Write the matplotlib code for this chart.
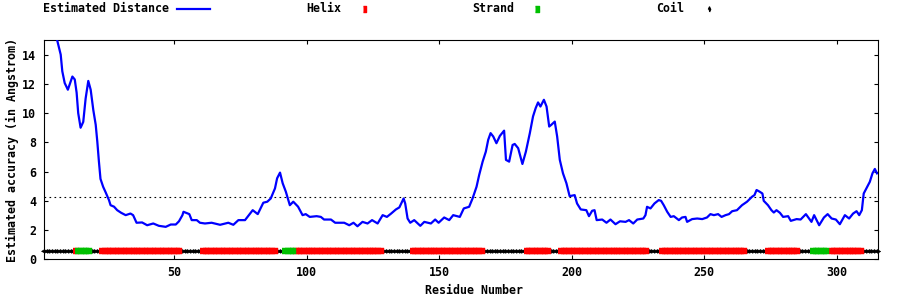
import matplotlib
matplotlib.use("Agg")
import matplotlib.pyplot as plt
from matplotlib.lines import Line2D
import numpy as np

# estimated distance per residue
res_pos = [1, 3, 5, 7.3, 7.9, 8.8, 10.0, 11.7, 12.6, 13.3, 13.9, 14.8, 15.8, 16.7, 17.7,
           18.6, 19.6, 20.5, 21.1, 21.7, 22.3, 23.3, 24.2, 25.5, 26.1, 27.4, 28.6, 30.1,
           31.8, 33.6, 34.6, 35.9, 38.0, 39.9, 42.2, 44.3, 46.9, 48.8, 50.7, 51.9, 53.2,
           53.6, 55.8, 56.7, 58.6, 59.8, 61.7, 64.2, 67.4, 70.5, 72.4, 74.3, 76.8, 78.7,
           79.7, 81.6, 83.7, 85.2, 86.5, 88.1, 88.9, 90.0, 91.0, 92.2, 93.7, 95.0, 96.8,
           98.5, 99.7, 101.2, 103.8, 105.4, 106.6, 109.2, 110.8, 114.2, 116.1, 117.7,
           119.2, 121.1, 123.0, 124.7, 126.8, 128.7, 130.3, 131.9, 133.7, 135.0, 136.0,
           136.6, 137.2, 138.1, 139.1, 140.6, 142.9, 144.4, 146.9, 148.5, 149.8, 151.9,
           153.8, 155.3, 157.8, 159.3, 161.3, 162.6, 164.1, 165.1, 166.4, 167.6, 168.5,
           169.4, 170.4, 171.6, 172.9, 174.5, 175.2, 176.4, 177.7, 178.5, 179.8, 181.4,
           182.7, 184.2, 185.4, 186.4, 187.3, 188.2, 189.5, 190.5, 191.5, 192.3, 193.6,
           194.5, 195.5, 196.7, 198.0, 199.2, 201.1, 202.0, 203.4, 205.5, 206.5, 207.7,
           208.6, 209.4, 211.5, 213.1, 214.6, 216.5, 218.2, 220.3, 221.6, 223.2, 224.7,
           227.0, 227.8, 228.4, 229.7, 231.2, 232.8, 233.7, 234.7, 236.0, 237.3, 238.5,
           240.4, 241.6, 242.9, 243.5, 245.4, 247.3, 249.2, 251.0, 252.3, 253.6, 255.2,
           256.5, 258.0, 259.3, 260.5, 262.3, 264.2, 266.1, 268.0, 268.9, 269.7, 270.9,
           271.9, 272.4, 274.0, 275.3, 276.2, 277.2, 278.5, 279.7, 281.6, 282.6, 284.8,
           286.3, 288.3, 290.4, 291.4, 293.3, 295.1, 296.5, 298.0, 299.6, 301.1, 303.0,
           304.6, 306.1, 307.4, 308.4, 309.4, 310.1, 311.1, 312.4, 313.4, 314.3, 315.1]
est_dist = [18.5, 17.0, 15.7, 14.0, 12.86, 12.06, 11.6, 12.5, 12.3, 11.4, 10.0, 9.0, 9.4, 11.0,
            12.2, 11.6, 10.2, 9.2, 8.05, 6.7, 5.5, 4.96, 4.6, 4.05, 3.7, 3.6, 3.36, 3.18,
            3.02, 3.13, 3.02, 2.5, 2.52, 2.33, 2.45, 2.29, 2.22, 2.38, 2.38, 2.6, 3.02,
            3.25, 3.09, 2.68, 2.68, 2.5, 2.45, 2.5, 2.36, 2.5, 2.36, 2.68, 2.68, 3.13,
            3.36, 3.09, 3.87, 3.94, 4.16, 4.85, 5.54, 5.93, 5.2, 4.62, 3.7, 3.94, 3.6,
            3.02, 3.09, 2.9, 2.95, 2.9, 2.72, 2.72, 2.5, 2.5, 2.33, 2.5,
            2.26, 2.56, 2.45, 2.68, 2.45, 3.02, 2.9, 3.13, 3.41, 3.55, 3.94,
            4.16, 3.82, 2.79, 2.5, 2.68, 2.29, 2.56, 2.45, 2.72, 2.5, 2.86,
            2.68, 3.02, 2.9, 3.48, 3.59, 4.16, 4.96, 5.77, 6.68, 7.36, 8.17,
            8.63, 8.4, 7.94, 8.44, 8.8, 6.8, 6.68, 7.82, 7.89, 7.6, 6.52,
            7.36, 8.63, 9.77, 10.34, 10.73, 10.45, 10.91, 10.45, 9.08, 9.2, 9.42,
            8.4, 6.8, 5.88, 5.2, 4.32, 4.39, 3.82, 3.41, 3.36, 2.95, 3.32,
            3.36, 2.68, 2.72, 2.5, 2.72, 2.4, 2.6, 2.56, 2.68, 2.45, 2.72,
            2.79, 3.02, 3.59, 3.48, 3.82, 4.05, 4.0, 3.7, 3.25, 2.9, 2.95,
            2.68, 2.86, 2.9, 2.56, 2.75, 2.79, 2.75, 2.86, 3.09, 3.02, 3.09,
            2.9, 3.02, 3.09, 3.29, 3.36, 3.7, 3.94, 4.28, 4.39, 4.74, 4.62,
            4.5, 4.0, 3.7, 3.36, 3.2, 3.36, 3.18, 2.9, 2.95, 2.63, 2.75,
            2.72, 3.09, 2.56, 3.02, 2.33, 2.86, 3.09, 2.79, 2.72, 2.4, 3.02,
            2.79, 3.13, 3.29, 3.02, 3.36, 4.5, 4.85, 5.3, 5.88, 6.18, 5.88]

threshold = 4.25
n_res = 315
ss_level = 0.55

# secondary structure segments (first, last residue)
helix_segments = [(13, 13), (23, 52), (61, 88), (96, 128), (140, 166), (183, 191),
                  (196, 228), (234, 265), (274, 285), (298, 309)]
strand_segments = [(14, 18), (92, 95), (291, 296)]

residues = np.arange(1, n_res + 1)
ss = np.array(['C'] * n_res)
for a, b in helix_segments:
    ss[a - 1:b] = 'H'
for a, b in strand_segments:
    ss[a - 1:b] = 'E'

font = dict(family='DejaVu Sans Mono', weight='bold', size=8.4)

rect_h = [(-0.75, -1), (0.75, -1), (0.75, 1), (-0.75, 1)]
rect_e = [(-1, -1), (1, -1), (1, 1), (-1, 1)]
coil_mark = [(0, -0.6), (1, 0), (0, 0.6), (-1, 0)]
key_rect_h = [(-0.45, -1), (0.45, -1), (0.45, 1), (-0.45, 1)]
key_rect_e = [(-0.6, -1), (0.6, -1), (0.6, 1), (-0.6, 1)]
key_diamond = [(0, -1), (0.45, 0), (0, 1), (-0.45, 0)]

fig = plt.figure(figsize=(9, 3), dpi=100)
ax = fig.add_axes([44 / 900, 1 - 259.3 / 300, (878.3 - 44) / 900, (259.3 - 40) / 300])

ax.plot(res_pos, est_dist, color='#0000ff', lw=1.6, zorder=3)
ax.axhline(threshold, color='black', lw=0.8, ls=(0, (1.5, 3)), zorder=2)

coil = residues[ss == 'C']
helix = residues[ss == 'H']
strand = residues[ss == 'E']
ax.plot(coil, np.full(len(coil), ss_level), ls='none', marker=coil_mark, ms=4.6,
        color='black', mec='black', mew=0.4, clip_on=False, zorder=4)
ax.plot(helix, np.full(len(helix), ss_level), ls='none', marker=rect_h, ms=5.0,
        color='#ff0000', mec='#ff0000', mew=0.3, clip_on=False, zorder=5)
ax.plot(strand, np.full(len(strand), ss_level), ls='none', marker=rect_e, ms=5.0,
        color='#00c000', mec='#00c000', mew=0.3, clip_on=False, zorder=6)

ax.set_xlim(1, 315.6)
ax.set_ylim(0, 15)
ax.set_xticks([50, 100, 150, 200, 250, 300])
ax.set_yticks([0, 2, 4, 6, 8, 10, 12, 14])
ax.tick_params(direction='in', top=True, right=True, length=3.2, width=0.8, labelsize=8.4)
ax.tick_params(axis='x', pad=4.5)
ax.tick_params(axis='y', pad=5.5)
for lab in ax.get_xticklabels() + ax.get_yticklabels():
    lab.set_fontfamily('DejaVu Sans Mono')
    lab.set_fontweight('bold')
for sp in ax.spines.values():
    sp.set_linewidth(0.8)

fig.text(12 / 900, 1 - 150 / 300, 'Estimated accuracy (in Angstrom)', rotation=90,
         ha='center', va='center', **font)
fig.text(474 / 900, 1 - 291 / 300, 'Residue Number', ha='center', va='center', **font)

# key along the top
ky = 1 - 9 / 300
fig.text(43 / 900, ky, 'Estimated Distance', ha='left', va='center', **font)
fig.add_artist(Line2D([177 / 900, 210 / 900], [ky, ky], color='#0000ff', lw=1.6))
fig.text(306 / 900, ky, 'Helix', ha='left', va='center', **font)
fig.add_artist(Line2D([364 / 900], [ky], ls='none', marker=key_rect_h, ms=4.8,
                      color='#ff0000', mec='#ff0000'))
fig.text(472 / 900, ky, 'Strand', ha='left', va='center', **font)
fig.add_artist(Line2D([537 / 900], [ky], ls='none', marker=key_rect_e, ms=5.0,
                      color='#00c000', mec='#00c000'))
fig.text(656 / 900, ky, 'Coil', ha='left', va='center', **font)
fig.add_artist(Line2D([709 / 900], [ky], ls='none', marker=key_diamond, ms=3.6,
                      color='black', mec='black'))

fig.savefig('out.png', dpi=100)
